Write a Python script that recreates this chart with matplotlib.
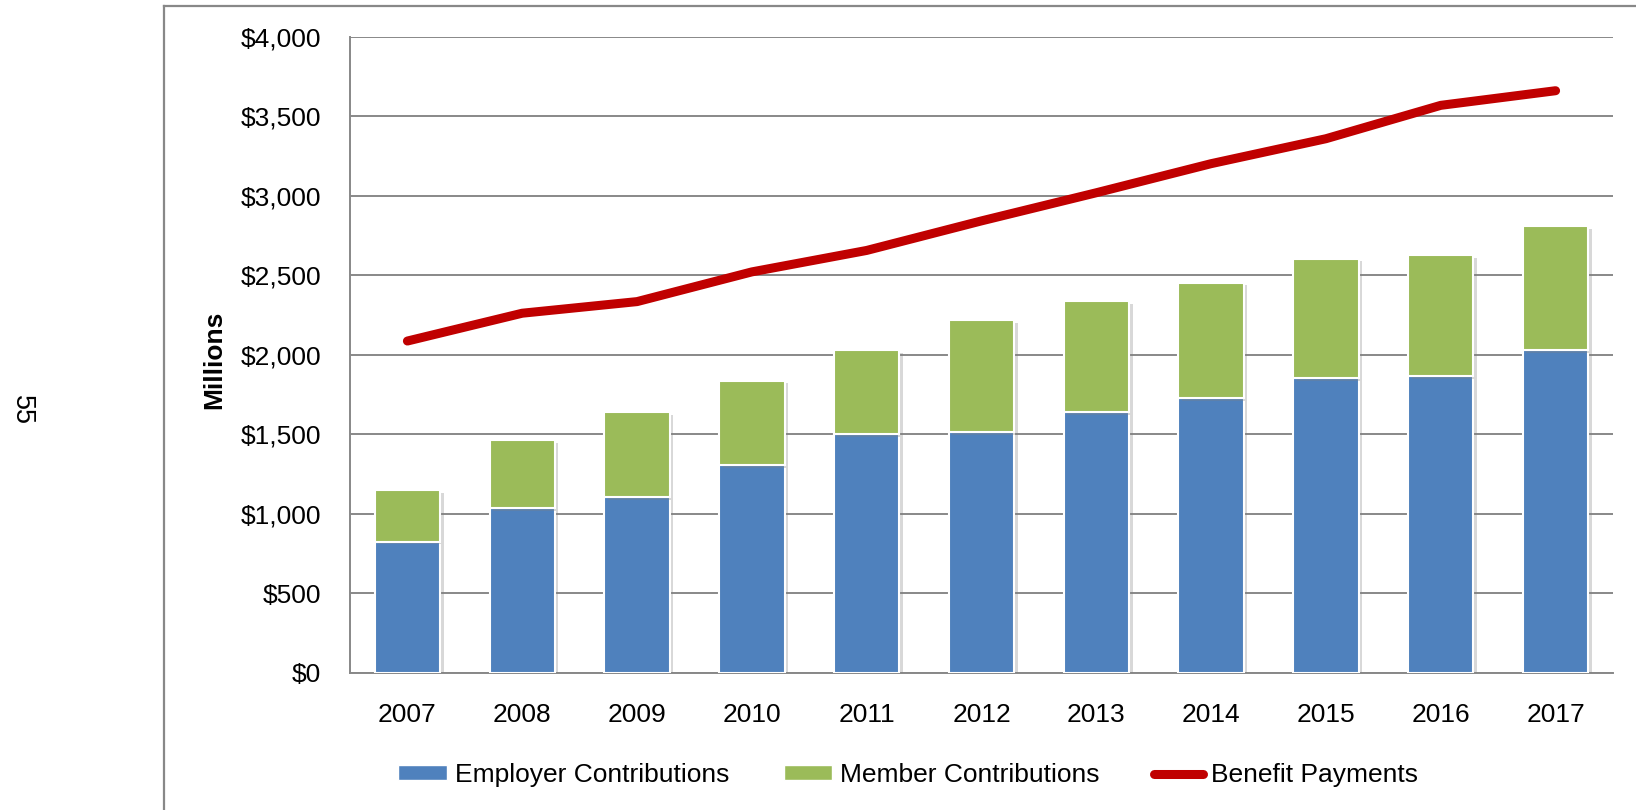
import matplotlib
matplotlib.use("Agg")
import matplotlib.pyplot as plt
import matplotlib.patheffects as pe
from matplotlib.patches import Patch
from matplotlib.lines import Line2D
from matplotlib.ticker import FuncFormatter
import numpy as np

plt.rcParams['font.family'] = ['Liberation Sans Narrow', 'Liberation Sans', 'DejaVu Sans']

# Contributions and payments, $ millions
years = ['2007', '2008', '2009', '2010', '2011', '2012',
         '2013', '2014', '2015', '2016', '2017']
employer = [825, 1038, 1104, 1304, 1503, 1516, 1640, 1730, 1855, 1867, 2032]
member = [325, 424, 534, 534, 525, 701, 700, 725, 750, 763, 776]
benefits = [2087, 2262, 2335, 2522, 2657, 2843, 3020, 3203, 3360, 3570, 3662]

BLUE = '#4F81BD'
GREEN = '#9BBB59'
RED = '#C00000'
GRID = '#888888'
FS = 19

W, H = 1636, 810
fig = plt.figure(figsize=(W / 100, H / 100), dpi=100)
ax = fig.add_axes([350 / W, 1 - 672.7 / H, (1613 - 350) / W, (672.7 - 37) / H])

x = np.arange(len(years))
shadow = [pe.SimplePatchShadow(offset=(2.5, -2), shadow_rgbFace='#7f7f7f', alpha=0.3),
          pe.Normal()]
b1 = ax.bar(x, employer, width=0.57, color=BLUE, edgecolor='white', linewidth=1.5, zorder=3)
b2 = ax.bar(x, member, bottom=employer, width=0.57, color=GREEN, edgecolor='white',
            linewidth=1.5, zorder=3)
for r in list(b1) + list(b2):
    r.set_path_effects(shadow)

ax.plot(x, benefits, color=RED, lw=6.5, solid_capstyle='round', solid_joinstyle='round', zorder=4)

ax.set_xlim(-0.5, len(years) - 0.5)
ax.set_ylim(0, 4000)
ax.set_yticks(np.arange(0, 4001, 500))
ax.yaxis.set_major_formatter(FuncFormatter(lambda v, _: f"${v:,.0f}"))
ax.set_xticks(x)
ax.set_xticklabels(years)
ax.tick_params(axis='both', length=0, labelsize=FS)
ax.tick_params(axis='y', pad=21)
ax.tick_params(axis='x', pad=22)
ax.grid(axis='y', color=GRID, lw=1.4, zorder=0)
ax.set_axisbelow(True)
for s in ['top', 'right']:
    ax.spines[s].set_visible(False)
for s in ['left', 'bottom']:
    ax.spines[s].set_color(GRID)
    ax.spines[s].set_linewidth(1.4)

fig.text(214 / W, 1 - 360 / H, 'Millions', rotation=90, fontsize=FS, fontweight='bold',
         ha='center', va='center')

# page frame and page number
fig.add_artist(Line2D([164 / W, 164 / W], [0, 1 - 6 / H], color=GRID, lw=1.6))
fig.add_artist(Line2D([164 / W, 1], [1 - 6 / H, 1 - 6 / H], color=GRID, lw=1.6))
fig.text(22 / W, 1 - 410 / H, '55', rotation=-90, fontsize=19.5, ha='center', va='center')

handles = [Patch(facecolor=BLUE, edgecolor='white'),
           Patch(facecolor=GREEN, edgecolor='white'),
           Line2D([0], [0], color=RED, lw=6.5, solid_capstyle='round')]
fig.legend(handles, ['Employer Contributions', 'Member Contributions', 'Benefit Payments'],
           loc='center', bbox_to_anchor=(908 / W, 1 - 775 / H), ncol=3, frameon=False,
           fontsize=FS, handlelength=1.85, handleheight=0.5, handletextpad=0.3,
           columnspacing=2.05)

fig.savefig('out.png', dpi=100, facecolor='white')
